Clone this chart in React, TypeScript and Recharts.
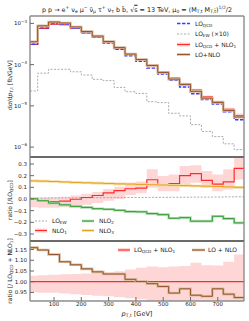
import React from 'react';
import { ComposedChart, Line, Area, XAxis, YAxis } from 'recharts';

// bin edges in GeV (40 GeV bins), step values hold from one edge to the next
const EDGES = [0, 40, 80, 120, 160, 200, 240, 280, 320, 360, 400, 440, 480, 520, 560, 600, 640, 680, 720, 760, 800];
const X_TICKS = [100, 200, 300, 400, 500, 600, 700];
const X_DOMAIN: [number, number] = [12, 796];

// top panel: dsigma/dpT [fb/GeV]
const LO_QCD = [3.11e-4, 7.79e-4, 9.84e-4, 9.48e-4, 7.63e-4, 5.94e-4, 4.58e-4, 3.32e-4, 2.34e-4, 1.64e-4, 1.21e-4, 8.24e-5, 5.89e-5, 4.15e-5, 2.86e-5, 1.97e-5, 1.42e-5, 1.11e-5, 7.16e-6, 4.6e-6];
const LO_EW_X10 = [2.3e-5, 6.2e-5, 7.7e-5, 7.7e-5, 6.7e-5, 5.6e-5, 4.4e-5, 4.1e-5, 2.8e-5, 2.2e-5, 2.0e-5, 1.26e-5, 1.2e-5, 6.6e-6, 5.7e-6, 3.5e-6, 2.4e-6, 1.8e-6, 1.2e-6, 8.7e-7];
const LO_QCD_NLO1 = [3.1e-4, 7.6e-4, 9.6e-4, 9.3e-4, 7.6e-4, 6.0e-4, 4.7e-4, 3.5e-4, 2.5e-4, 1.78e-4, 1.33e-4, 9.6e-5, 6.6e-5, 4.7e-5, 3.4e-5, 2.4e-5, 1.65e-5, 1.25e-5, 8.2e-6, 5.8e-6];
const LO_NLO = [3.59e-4, 8.72e-4, 1.08e-3, 1.02e-3, 8.2e-4, 6.36e-4, 4.92e-4, 3.63e-4, 2.59e-4, 1.8e-4, 1.33e-4, 9.52e-5, 6.45e-5, 4.45e-5, 3.29e-5, 2.25e-5, 1.54e-5, 1.21e-5, 7.72e-6, 5.37e-6];
const LOG_TICKS = [1e-6, 1e-5, 1e-4, 1e-3];

// middle panel: ratio to LO_QCD
const R_LO_EW = [0.007, 0.008, 0.009, 0.01, 0.01, 0.011, 0.011, 0.012, 0.012, 0.013, 0.013, 0.014, 0.014, 0.015, 0.015, 0.016, 0.016, 0.017, 0.018, 0.019];
const R_NLO1 = [-0.004, -0.02, -0.022, -0.018, -0.002, 0.013, 0.03, 0.053, 0.072, 0.088, 0.094, 0.165, 0.12, 0.132, 0.2, 0.217, 0.16, 0.127, 0.147, 0.262];
const R_NLO1_LO = [-0.07, -0.075, -0.075, -0.07, -0.06, -0.05, -0.035, -0.015, 0.0, 0.035, 0.05, 0.096, 0.067, 0.067, 0.125, 0.14, 0.096, 0.067, 0.082, 0.168];
const R_NLO1_HI = [0.01, 0.012, 0.015, 0.02, 0.03, 0.045, 0.06, 0.085, 0.105, 0.14, 0.15, 0.254, 0.197, 0.21, 0.283, 0.29, 0.24, 0.21, 0.254, 0.37];
const R_NLO2 = [0.002, -0.015, -0.035, -0.05, -0.063, -0.072, -0.083, -0.088, -0.097, -0.108, -0.11, -0.125, -0.134, -0.165, -0.16, -0.19, -0.19, -0.148, -0.168, -0.205];
const R_NLO3 = [0.155, 0.153, 0.15, 0.146, 0.142, 0.139, 0.136, 0.133, 0.13, 0.128, 0.125, 0.122, 0.12, 0.117, 0.115, 0.112, 0.11, 0.107, 0.104, 0.1];
const MID_TICKS = [-0.3, -0.2, -0.1, 0, 0.1, 0.2, 0.3];

// bottom panel: ratio to LO_QCD + NLO1
const R_SELF = [1, 1, 1, 1, 1, 1, 1, 1, 1, 1, 1, 1, 1, 1, 1, 1, 1, 1, 1, 1];
const R_LO_NLO = [1.159, 1.148, 1.127, 1.093, 1.079, 1.06, 1.046, 1.036, 1.036, 1.011, 1.001, 0.991, 0.978, 0.947, 0.967, 0.937, 0.932, 0.967, 0.942, 0.926];
const R_BAND_LO = [0.951, 0.949, 0.948, 0.945, 0.942, 0.938, 0.935, 0.932, 0.927, 0.923, 0.918, 0.905, 0.9, 0.9, 0.895, 0.88, 0.89, 0.89, 0.87, 0.84];
const R_BAND_HI = [1.028, 1.03, 1.033, 1.035, 1.036, 1.038, 1.041, 1.044, 1.049, 1.057, 1.065, 1.071, 1.068, 1.071, 1.073, 1.088, 1.077, 1.076, 1.093, 1.127];
const BOT_TICKS = [0.95, 1.0, 1.05, 1.1, 1.15];

const FONT = '"DejaVu Sans", Verdana, sans-serif';
const INK = '#1a1a1a';
const FRAME = '#8c8c8c';
const SEP = '#6a6a6a';
const RED = '#ff2b2b';
const PINK = '#ffd6d6';
const BLUE = '#3b3bff';
const GREY = '#a0a0a0';
const BROWN = '#96552a';
const TAN = '#d9bb9c';
const GREEN = '#2f9a2f';
const LGREEN = '#b4dcb4';
const ORANGE = '#e6a21e';
const LORANGE = '#f5dba2';

const at = (arr: number[], i: number) => arr[Math.min(i, arr.length - 1)];

const topData = EDGES.map((x, i) => ({
  x,
  qcd: at(LO_QCD, i),
  ew: at(LO_EW_X10, i),
  nlo1: at(LO_QCD_NLO1, i),
  full: at(LO_NLO, i),
  band: [at(LO_QCD_NLO1, i) * at(R_BAND_LO, i), at(LO_QCD_NLO1, i) * at(R_BAND_HI, i)],
}));

const midData = EDGES.map((x, i) => ({
  x,
  ew: at(R_LO_EW, i),
  nlo1: at(R_NLO1, i),
  band: [at(R_NLO1_LO, i), at(R_NLO1_HI, i)],
  nlo2: at(R_NLO2, i),
  nlo3: at(R_NLO3, i),
}));

const botData = EDGES.map((x, i) => ({
  x,
  self: at(R_SELF, i),
  full: at(R_LO_NLO, i),
  band: [at(R_BAND_LO, i), at(R_BAND_HI, i)],
}));

const tickFont = { fontSize: 5.5, fill: INK, fontFamily: FONT };

const LogTick = (props: any) => {
  const { x, y, payload } = props;
  const exp = Math.round(Math.log10(payload.value));
  return (
    <text x={x} y={y + 2} textAnchor="end" fontSize={5.5} fontFamily={FONT} fill={INK}>
      10<tspan dy={-2.6} fontSize={4}>{'\u2212' + Math.abs(exp)}</tspan>
    </text>
  );
};

// frame: ticks pointing inwards on all four sides, like the matplotlib original
const axes = (y: any, sepTop: boolean, sepBottom: boolean, xLabels: boolean) => {
  const line = (sep: boolean) => ({ stroke: sep ? SEP : FRAME, strokeWidth: sep ? 2 : 1.4 });
  return [
    <XAxis key="xb" xAxisId="b" dataKey="x" type="number" domain={X_DOMAIN} allowDataOverflow ticks={X_TICKS} interval={0}
      height={xLabels ? 20 : 1} tickSize={-4} tickMargin={xLabels ? 5 : 0} tick={xLabels ? tickFont : false}
      axisLine={line(sepBottom)} tickLine={{ stroke: SEP }} />,
    <XAxis key="xt" xAxisId="t" orientation="top" dataKey="x" type="number" domain={X_DOMAIN} allowDataOverflow ticks={X_TICKS} interval={0}
      height={1} tickSize={-4} tick={false} axisLine={line(sepTop)} tickLine={{ stroke: SEP }} />,
    <YAxis key="yl" yAxisId="l" type="number" allowDataOverflow width={30} interval={0} tickSize={-4} tickMargin={7}
      axisLine={line(false)} tickLine={{ stroke: SEP }} tick={tickFont} {...y} />,
    <YAxis key="yr" yAxisId="r" orientation="right" type="number" allowDataOverflow width={5} interval={0} tickSize={-4}
      axisLine={line(false)} tickLine={{ stroke: SEP }} {...y} tick={false} />,
  ];
};

const S = { xAxisId: 'b', yAxisId: 'l', type: 'stepAfter' as const, dot: false, activeDot: false, isAnimationActive: false };

const Sub = ({ children }: { children: React.ReactNode }) => (
  <span style={{ fontSize: '0.7em', position: 'relative', top: '0.3em' }}>{children}</span>
);
const Sup = ({ children }: { children: React.ReactNode }) => (
  <span style={{ fontSize: '0.7em', position: 'relative', top: '-0.45em' }}>{children}</span>
);

const Txt = ({ x, y, size = 6, mode = 'left', children }: { x: number; y: number; size?: number; mode?: 'left' | 'center' | 'rot'; children: React.ReactNode }) => (
  <div
    style={{
      position: 'absolute', left: x, top: y, fontSize: size, fontFamily: FONT, color: INK,
      whiteSpace: 'nowrap', lineHeight: 1,
      transform: mode === 'left' ? 'translate(0,-50%)' : mode === 'center' ? 'translate(-50%,-50%)' : 'translate(-50%,-50%) rotate(-90deg)',
    }}
  >
    {children}
  </div>
);

const fmt1 = (v: number) => (v < 0 ? '\u2212' : '') + Math.abs(v).toFixed(1);
const fmt2 = (v: number) => v.toFixed(2);

export default function App() {
  return (
    <div style={{ position: 'absolute', left: 0, top: 0, width: 249, height: 321, background: '#fff', overflow: 'hidden' }}>
      <div style={{ position: 'absolute', left: 0, top: 0 }}>
        <ComposedChart width={249} height={160} data={topData} margin={{ top: 15, right: 0, bottom: 2, left: 0 }}>
          {axes({ scale: 'log', domain: [5.75e-7, 1.51e-3], ticks: LOG_TICKS, tick: <LogTick /> }, false, true, false)}
          <Area {...S} dataKey="band" stroke="none" fill={PINK} fillOpacity={1} />
          <Line {...S} dataKey="ew" stroke={GREY} strokeWidth={0.9} strokeDasharray="2 1.5" />
          <Line {...S} dataKey="nlo1" stroke={RED} strokeWidth={1.2} />
          <Line {...S} dataKey="qcd" stroke={BLUE} strokeWidth={1.4} strokeDasharray="3.5 1.5" />
          <Line {...S} dataKey="full" stroke={TAN} strokeWidth={2.6} />
          <Line {...S} dataKey="full" stroke={BROWN} strokeWidth={1} />
        </ComposedChart>
      </div>

      <div style={{ position: 'absolute', left: 0, top: 150 }}>
        <ComposedChart width={249} height={94} data={midData} margin={{ top: 6, right: 0, bottom: 2, left: 0 }}>
          {axes({ domain: [-0.36, 0.36], ticks: MID_TICKS, tickFormatter: fmt1 }, true, true, false)}
          <Area {...S} dataKey="band" stroke="none" fill={PINK} fillOpacity={1} />
          <Line {...S} dataKey="ew" stroke={GREY} strokeWidth={0.9} strokeDasharray="2 1.5" />
          <Line {...S} dataKey="nlo1" stroke={RED} strokeWidth={1.2} />
          <Line {...S} dataKey="nlo2" stroke={LGREEN} strokeWidth={2.6} />
          <Line {...S} dataKey="nlo2" stroke={GREEN} strokeWidth={1} />
          <Line {...S} dataKey="nlo3" stroke={LORANGE} strokeWidth={2.6} />
          <Line {...S} dataKey="nlo3" stroke={ORANGE} strokeWidth={1} />
        </ComposedChart>
      </div>

      <div style={{ position: 'absolute', left: 0, top: 235 }}>
        <ComposedChart width={249} height={86} data={botData} margin={{ top: 5, right: 0, bottom: 0, left: 0 }}>
          {axes({ domain: [0.91, 1.19], ticks: BOT_TICKS, tickFormatter: fmt2 }, true, false, true)}
          <Area {...S} dataKey="band" stroke="none" fill={PINK} fillOpacity={1} />
          <Line {...S} dataKey="self" stroke={RED} strokeWidth={1.2} />
          <Line {...S} dataKey="full" stroke={TAN} strokeWidth={2.6} />
          <Line {...S} dataKey="full" stroke={BROWN} strokeWidth={1} />
        </ComposedChart>
      </div>

      {/* legend samples */}
      <svg width={249} height={321} style={{ position: 'absolute', left: 0, top: 0, pointerEvents: 'none' }}>
        <line x1={177} x2={190} y1={23.5} y2={23.5} stroke={BLUE} strokeWidth={1.4} strokeDasharray="3.5 1.5" />
        <line x1={177} x2={190} y1={34} y2={34} stroke={GREY} strokeWidth={0.9} strokeDasharray="2 1.5" />
        <rect x={177} y={42.5} width={13} height={4} fill={PINK} />
        <line x1={177} x2={190} y1={44.5} y2={44.5} stroke={RED} strokeWidth={1.2} />
        <line x1={177} x2={190} y1={54.5} y2={54.5} stroke={TAN} strokeWidth={2.6} />
        <line x1={177} x2={190} y1={54.5} y2={54.5} stroke={BROWN} strokeWidth={1} />

        <line x1={35} x2={47} y1={221} y2={221} stroke={GREY} strokeWidth={0.9} strokeDasharray="2 1.5" />
        <rect x={35} y={228.5} width={12} height={4} fill={PINK} />
        <line x1={35} x2={47} y1={230.5} y2={230.5} stroke={RED} strokeWidth={1.2} />
        <line x1={82} x2={94} y1={221} y2={221} stroke={LGREEN} strokeWidth={2.6} />
        <line x1={82} x2={94} y1={221} y2={221} stroke={GREEN} strokeWidth={1} />
        <line x1={82} x2={94} y1={230.5} y2={230.5} stroke={LORANGE} strokeWidth={2.6} />
        <line x1={82} x2={94} y1={230.5} y2={230.5} stroke={ORANGE} strokeWidth={1} />

        <rect x={118} y={248} width={12} height={4} fill={PINK} />
        <line x1={118} x2={130} y1={250} y2={250} stroke={RED} strokeWidth={1.2} />
        <line x1={192} x2={205} y1={250} y2={250} stroke={TAN} strokeWidth={2.6} />
        <line x1={192} x2={205} y1={250} y2={250} stroke={BROWN} strokeWidth={1} />
      </svg>

      <Txt x={137} y={9.5} size={6.4} mode="center">
        p p → e<Sup>+</Sup> ν<Sub>e</Sub> μ<Sup>−</Sup> ν̄<Sub>μ</Sub> τ<Sup>+</Sup> ν<Sub>τ</Sub> b b̄, √<span style={{ textDecoration: 'overline' }}>s</span> = 13 TeV, μ<Sub>0</Sub> = (M<Sub>T,t</Sub> M<Sub>T,t̄</Sub>)<Sup>1/2</Sup>/2
      </Txt>

      <Txt x={195} y={23.5}>LO<Sub>QCD</Sub></Txt>
      <Txt x={195} y={34}>LO<Sub>EW</Sub> (×10)</Txt>
      <Txt x={195} y={44.5}>LO<Sub>QCD</Sub> + NLO<Sub>1</Sub></Txt>
      <Txt x={195} y={54.5}>LO+NLO</Txt>

      <Txt x={52} y={221}>LO<Sub>EW</Sub></Txt>
      <Txt x={52} y={230.5}>NLO<Sub>1</Sub></Txt>
      <Txt x={99} y={221}>NLO<Sub>2</Sub></Txt>
      <Txt x={99} y={230.5}>NLO<Sub>3</Sub></Txt>

      <Txt x={134} y={250}>LO<Sub>QCD</Sub> + NLO<Sub>1</Sub></Txt>
      <Txt x={208} y={250}>LO + NLO</Txt>

      <Txt x={10} y={85} mode="rot">d<i>σ</i>/d<i>p</i><Sub>T,t</Sub> [fb/GeV]</Txt>
      <Txt x={10} y={200} mode="rot">ratio [/LO<Sub>QCD</Sub>]</Txt>
      <Txt x={10} y={271} mode="rot">ratio [/ LO<Sub>QCD</Sub> + NLO<Sub>1</Sub>]</Txt>

      <Txt x={137} y={314} size={6.5} mode="center"><i>p</i><Sub>T,t</Sub> [GeV]</Txt>
    </div>
  );
}
